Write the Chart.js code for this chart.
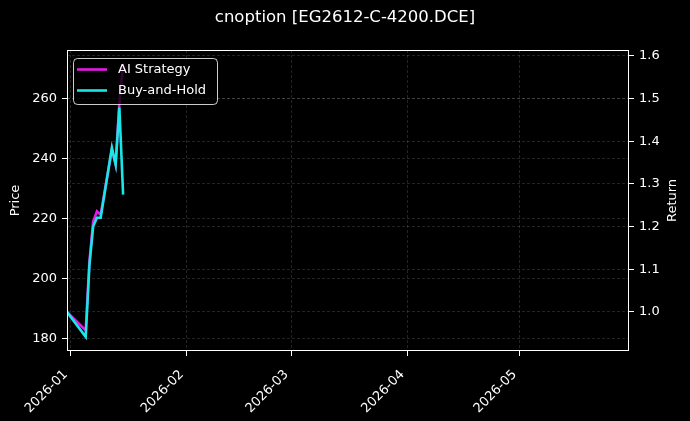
<!DOCTYPE html>
<html>
<head>
<meta charset="utf-8">
<script src="https://cdn.jsdelivr.net/npm/chart.js@4.4.1/dist/chart.umd.min.js"></script>
<style>
  html, body { margin: 0; padding: 0; background: #000; }
  #wrap { width: 690px; height: 421px; }
</style>
</head>
<body>
<div id="wrap"><canvas id="optionChart"></canvas></div>
<script>
// values
const tradeDates = ['2025-12-31', '2026-01-05', '2026-01-06', '2026-01-07', '2026-01-08',
                    '2026-01-09', '2026-01-12', '2026-01-13', '2026-01-14', '2026-01-15'];
const aiStrategy = [1.000, 0.957, 1.118, 1.212, 1.236, 1.228, 1.381, 1.346, 1.490, 1.582];
const buyAndHold = [1.000, 0.942, 1.111, 1.201, 1.221, 1.221, 1.385, 1.346, 1.479, 1.275];

const monthTicks = ['2026-01-01', '2026-02-01', '2026-03-01', '2026-04-01', '2026-05-01'];
const priceTicks = [180, 200, 220, 240, 260];
const returnTicks = [1.0, 1.1, 1.2, 1.3, 1.4, 1.5, 1.6];

const xStart = '2025-12-31';
const xEnd = '2026-05-30T06:00:00Z';
const priceRange = [176, 276];
const returnRange = [0.9086, 1.614];

const FONT = 'DejaVu Sans';
const gridColor = 'rgba(255,255,255,0.2)';

function toPoints(values) {
    return tradeDates.map((d, i) => ({ x: Date.parse(d), y: values[i] }));
}

const backdrop = {
    id: 'backdrop',
    beforeDraw(chart) {
        const ctx = chart.ctx;
        ctx.save();
        ctx.fillStyle = '#000';
        ctx.fillRect(0, 0, chart.width, chart.height);
        ctx.restore();
    }
};

// frame, right axis label (reads bottom-to-top) and legend in the upper left
const frameAndLegend = {
    id: 'frameAndLegend',
    afterDraw(chart) {
        const ctx = chart.ctx;
        const a = chart.chartArea;
        ctx.save();
        ctx.strokeStyle = '#fff';
        ctx.lineWidth = 1;
        ctx.strokeRect(a.left + 0.5, a.top + 0.5, a.right - a.left - 1, a.bottom - a.top - 1);

        ctx.save();
        ctx.translate(673, (a.top + a.bottom) / 2);
        ctx.rotate(-Math.PI / 2);
        ctx.font = '13px "' + FONT + '"';
        ctx.fillStyle = '#fff';
        ctx.textAlign = 'center';
        ctx.textBaseline = 'middle';
        ctx.fillText('Return', 0, 0);
        ctx.restore();

        const x0 = a.left + 6, y0 = a.top + 8, w = 144, h = 46, r = 4;
        ctx.beginPath();
        ctx.roundRect(x0 + 0.5, y0 + 0.5, w, h, r);
        ctx.fillStyle = 'rgba(0,0,0,0.8)';
        ctx.fill();
        ctx.strokeStyle = 'rgba(255,255,255,0.8)';
        ctx.stroke();

        ctx.font = '13px "' + FONT + '"';
        ctx.textBaseline = 'middle';
        chart.data.datasets.forEach((ds, i) => {
            const yy = y0 + 11.5 + i * 21;
            ctx.beginPath();
            ctx.strokeStyle = ds.borderColor;
            ctx.lineWidth = ds.borderWidth;
            ctx.moveTo(x0 + 4, yy);
            ctx.lineTo(x0 + 34, yy);
            ctx.stroke();
            ctx.fillStyle = '#fff';
            ctx.fillText(ds.label, x0 + 45, yy);
        });
        ctx.restore();
    }
};

const ctx = document.getElementById('optionChart').getContext('2d');
new Chart(ctx, {
    type: 'line',
    data: {
        datasets: [{
            label: 'AI Strategy',
            data: toPoints(aiStrategy),
            borderColor: '#e619e6',
            borderWidth: 2.6,
            pointRadius: 0,
            yAxisID: 'y1',
            order: 1
        }, {
            label: 'Buy-and-Hold',
            data: toPoints(buyAndHold),
            borderColor: '#19e6e6',
            borderWidth: 2.6,
            pointRadius: 0,
            yAxisID: 'y1',
            order: 0
        }]
    },
    options: {
        responsive: true,
        maintainAspectRatio: false,
        animation: false,
        layout: { padding: 0 },
        plugins: {
            legend: { display: false },
            tooltip: { enabled: false },
            title: {
                display: true,
                text: 'cnoption [EG2612-C-4200.DCE]',
                color: '#fff',
                font: { family: FONT, size: 16.5, weight: 'normal', lineHeight: 1.2 },
                padding: { top: 8, bottom: 22.2 }
            }
        },
        scales: {
            x: {
                type: 'linear',
                min: Date.parse(xStart),
                max: Date.parse(xEnd),
                afterBuildTicks(scale) {
                    scale.ticks = monthTicks.map(d => ({ value: Date.parse(d) }));
                },
                afterFit(scale) { scale.height = 70; },
                ticks: {
                    color: '#fff',
                    font: { family: FONT, size: 13 },
                    minRotation: 45,
                    maxRotation: 45,
                    padding: 11,
                    labelOffset: -5,
                    callback: v => new Date(v).toISOString().slice(0, 7)
                },
                grid: { color: gridColor, lineWidth: 0.7, tickColor: '#fff', tickLength: 5, tickWidth: 1 },
                border: { display: false, dash: [3, 2] }
            },
            y: {
                position: 'left',
                min: priceRange[0],
                max: priceRange[1],
                afterBuildTicks(scale) {
                    scale.ticks = priceTicks.map(v => ({ value: v }));
                },
                afterFit(scale) { scale.width = 67; },
                ticks: { color: '#fff', font: { family: FONT, size: 13 }, padding: 5 },
                title: {
                    display: true, text: 'Price', color: '#fff',
                    font: { family: FONT, size: 13 }, padding: { top: 8, bottom: 0 }
                },
                grid: { color: gridColor, lineWidth: 0.7, tickColor: '#fff', tickLength: 5, tickWidth: 1 },
                border: { display: false, dash: [3, 2] }
            },
            y1: {
                position: 'right',
                min: returnRange[0],
                max: returnRange[1],
                afterBuildTicks(scale) {
                    scale.ticks = returnTicks.map(v => ({ value: v }));
                },
                afterFit(scale) { scale.width = 61; },
                ticks: {
                    color: '#fff', font: { family: FONT, size: 13 }, padding: 5,
                    callback: v => v.toFixed(1)
                },
                title: { display: false },
                grid: { color: gridColor, lineWidth: 0.7, tickColor: '#fff', tickLength: 5, tickWidth: 1 },
                border: { display: false, dash: [3, 2] }
            }
        }
    },
    plugins: [backdrop, frameAndLegend]
});
</script>
</body>
</html>
